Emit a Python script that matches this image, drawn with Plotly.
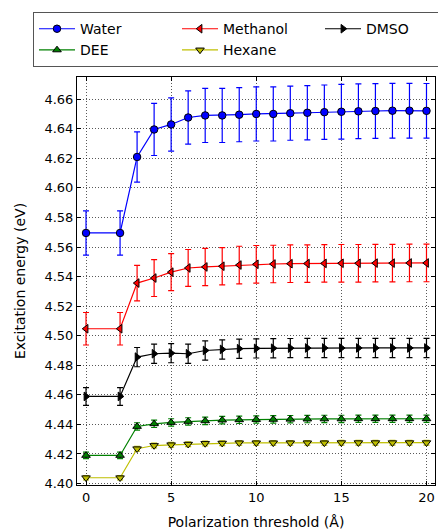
import plotly.graph_objects as go

x = [0, 2, 3, 4, 5, 6, 7, 8, 9, 10, 11, 12, 13, 14, 15, 16, 17, 18, 19, 20]

water = [4.5695, 4.5695, 4.6209, 4.6395, 4.6429, 4.6476, 4.6490, 4.6490, 4.6495, 4.6500,
         4.6500, 4.6505, 4.6508, 4.6512, 4.6515, 4.6518, 4.6520, 4.6522, 4.6522, 4.6521]
water_err = [0.015, 0.015, 0.017, 0.0176, 0.018, 0.018, 0.0183, 0.0183, 0.0183, 0.0183,
             0.0183, 0.0183, 0.0184, 0.0184, 0.0185, 0.0185, 0.0185, 0.0185, 0.0185, 0.0185]

methanol = [4.5047, 4.5047, 4.5356, 4.5390, 4.5430, 4.5458, 4.5465, 4.5470, 4.5478, 4.5483,
            4.5485, 4.5487, 4.5488, 4.5489, 4.5490, 4.5490, 4.5491, 4.5491, 4.5492, 4.5492]
methanol_err = [0.011, 0.011, 0.012, 0.0125, 0.0125, 0.0125, 0.0126, 0.0126, 0.0127, 0.0127,
                0.0127, 0.0127, 0.0127, 0.0127, 0.0127, 0.0127, 0.0127, 0.0127, 0.0127, 0.0127]

dmso = [4.4589, 4.4589, 4.4855, 4.4878, 4.4882, 4.4878, 4.4900, 4.4907, 4.4912, 4.4914,
        4.4915, 4.4916, 4.4917, 4.4917, 4.4917, 4.4917, 4.4917, 4.4917, 4.4917, 4.4917]
dmso_err = [0.006, 0.006, 0.0065, 0.0065, 0.0065, 0.0065, 0.0065, 0.0065, 0.0065, 0.0065,
            0.0065, 0.0065, 0.0065, 0.0065, 0.0065, 0.0065, 0.0065, 0.0065, 0.0065, 0.0065]

dee = [4.4190, 4.4190, 4.4386, 4.4404, 4.4413, 4.4420, 4.4424, 4.4429, 4.4431, 4.4433,
       4.4434, 4.4435, 4.4436, 4.4437, 4.4437, 4.4438, 4.4438, 4.4438, 4.4438, 4.4438]
dee_err = [0.0022, 0.0022, 0.0025, 0.0025, 0.0025, 0.0025, 0.0025, 0.0025, 0.0025, 0.0025,
           0.0025, 0.0025, 0.0025, 0.0025, 0.0025, 0.0025, 0.0025, 0.0025, 0.0025, 0.0025]

hexane = [4.4039, 4.4039, 4.4235, 4.4257, 4.4262, 4.4266, 4.4271, 4.4273, 4.4275, 4.4275,
          4.4275, 4.4275, 4.4275, 4.4275, 4.4276, 4.4276, 4.4276, 4.4276, 4.4276, 4.4276]
hexane_err = [0.0015, 0.0015, 0.0016, 0.0016, 0.0016, 0.0016, 0.0016, 0.0016, 0.0016, 0.0016,
              0.0016, 0.0016, 0.0016, 0.0016, 0.0016, 0.0016, 0.0016, 0.0016, 0.0016, 0.0016]

series = [
    ("Water", water, water_err, "#0000ff", "circle"),
    ("Methanol", methanol, methanol_err, "#ff0000", "triangle-left"),
    ("DMSO", dmso, dmso_err, "#000000", "triangle-right"),
    ("DEE", dee, dee_err, "#008000", "triangle-up"),
    ("Hexane", hexane, hexane_err, "#bfbf00", "triangle-down"),
]

fig = go.Figure()
for name, y, err, color, sym in series:
    fig.add_trace(go.Scatter(
        x=x, y=y, name=name, mode="lines+markers",
        line=dict(color=color, width=1.2),
        marker=dict(symbol=sym, size=7.5, color=color, line=dict(color="#000000", width=1)),
        error_y=dict(type="data", array=err, visible=True, color=color, thickness=1.2, width=3),
    ))

font = "DejaVu Sans, Arial, sans-serif"
axis_common = dict(
    showline=True, linecolor="black", linewidth=1, mirror="ticks",
    ticks="inside", ticklen=4, tickcolor="black",
    showgrid=True, gridcolor="rgba(0,0,0,0.65)", griddash="1px,2px", gridwidth=1,
    zeroline=False, automargin=False,
    tickfont=dict(family=font, size=13, color="black"),
)

# page body has an 8px default margin; figure sized to fill the rest of the window
fig.update_layout(
    width=438, height=522,
    margin=dict(l=69, r=11, t=69, b=45, autoexpand=False),
    paper_bgcolor="white", plot_bgcolor="white",
    font=dict(family=font, color="black"),
    xaxis=dict(range=[-0.53, 20.5], tickvals=[0, 5, 10, 15, 20],
               title=dict(text="Polarization threshold (Å)", font=dict(family=font, size=14), standoff=13),
               **axis_common),
    yaxis=dict(range=[4.399, 4.675], tickvals=[4.40 + 0.02 * i for i in range(14)],
               tickformat=".2f",
               title=dict(text="Excitation energy (eV)", font=dict(family=font, size=14), standoff=15),
               **axis_common),
    legend=dict(orientation="h", x=-0.1229, y=1.159, xanchor="left", yanchor="top",
                bgcolor="white", bordercolor="#555555", borderwidth=1,
                font=dict(family=font, size=14), entrywidth=92, entrywidthmode="pixels",
                itemwidth=36, tracegroupgap=0),
    showlegend=True,
)

fig.write_html("out.html")
